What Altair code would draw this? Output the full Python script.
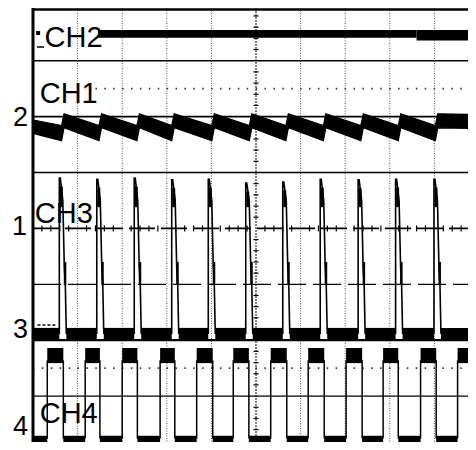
import altair as alt
import pandas as pd

# ---------------- data (all in screen divisions: 10 across, 8 high) ----------------
# CH1: sawtooth ripple, position of each fast rise
ch1_jump_x = [0.64, 1.48, 2.33, 3.11, 4.01, 4.85, 5.67, 6.51, 7.35, 8.19, 9.02, 9.87]
ch1_start = (5.94, 5.70)   # band top / bottom at left edge
ch1_high = (6.05, 5.80)    # band top / bottom just after a rise
ch1_low = (5.84, 5.57)     # band top / bottom just before a rise

# CH2: flat thick trace
ch2_x = [1.46, 8.60, 9.93]
ch2_top = [7.55, 7.55]
ch2_bottom = [7.41, 7.36]

# CH3: narrow pulses
ch3_rise_x = [0.59, 1.43, 2.27, 3.11, 3.93, 4.77, 5.60, 6.44, 7.29, 8.13, 8.99, 9.86]
ch3_top = [4.90, 4.88, 4.90, 4.87, 4.88, 4.81, 4.83, 4.88, 4.87, 4.88, 4.88, 4.87]
ch3_base = (2.00, 2.22)

# CH4: square wave
ch4_rise_x = [0.32, 1.17, 2.00, 2.85, 3.67, 4.49, 5.33, 6.17, 7.02, 7.85, 8.69, 9.52]
ch4_fall_x = [0.68, 1.50, 2.34, 3.18, 4.03, 4.84, 5.69, 6.53, 7.38, 8.19, 9.04, 9.87]
ch4_high = (1.59, 1.86)
ch4_low = (0.00, 0.29)

labels = ["CH2", "CH1", "CH3", "CH4"]
label_x = [0.26, 0.15, 0.04, 0.15]
label_y = [7.245, 6.245, 4.10, 0.52]
markers = ["2", "1", "3", "4"]
marker_x = [-0.45, -0.47, -0.45, -0.45]
marker_y = [5.83, 3.88, 2.04, 0.31]

# ---------------- geometry helpers ----------------
W, H = 460, 434
X0 = -25 / 44.6
X1 = X0 + W / 44.6
Y1 = 444 / 55.9
Y0 = Y1 - H / 55.9
PX = 1 / 44.6
PY = 1 / 55.9

xs = alt.Scale(domain=[X0, X1], nice=False, zero=False)
ys = alt.Scale(domain=[Y0, Y1], nice=False, zero=False)


def X(f):
    return alt.X(f, type="quantitative", scale=xs, axis=None)


def Y(f):
    return alt.Y(f, type="quantitative", scale=ys, axis=None)


layers = []

# vertical dotted grid
vg = pd.DataFrame({"x": [1, 2, 3, 4, 6, 7, 8, 9]})
layers.append(alt.Chart(vg).mark_rule(color="#555", strokeWidth=1, strokeDash=[1, 1.5]).encode(x=X("x")))
layers.append(alt.Chart(pd.DataFrame({"x": [5]})).mark_rule(color="#333", strokeWidth=1.2, strokeDash=[2, 1]).encode(x=X("x")))
ticks_v = pd.DataFrame({"y": [0.2 * i for i in range(1, 40) if i % 5 != 0]})
ticks_v["x"] = 5 - 2.5 * PX
ticks_v["x2"] = 5 + 2.5 * PX
layers.append(alt.Chart(ticks_v).mark_rule(color="#000", strokeWidth=1.2).encode(x=X("x"), x2="x2", y=Y("y")))


def hrule(yvals, width, dash=None, color="#000", start=0.0, end=None):
    d = pd.DataFrame({"y": yvals})
    d["x"] = start
    d["x2"] = X1 if end is None else end
    kw = dict(color=color, strokeWidth=width)
    if dash:
        kw["strokeDash"] = dash
    return alt.Chart(d).mark_rule(**kw).encode(x=X("x"), x2="x2", y=Y("y"))


layers.append(hrule([7, 6, 5], 1.6))
layers.append(hrule([2], 2.2))
layers.append(hrule([1], 1.4))
layers.append(hrule([4], 1.6, [26, 6]))
layers.append(hrule([3], 1.3, [28, 7]))
layers.append(hrule([6.5], 1.6, [1.5, 7.4], "#333", start=1.4))
layers.append(hrule([1.5], 1.6, [1.5, 7.4], "#333"))
ticks_h = pd.DataFrame({"x": [0.2 * i for i in range(1, 50) if i % 5 != 0]})
ticks_h["y"] = 4 - 3 * PY
ticks_h["y2"] = 4 + 3 * PY
layers.append(alt.Chart(ticks_h).mark_rule(color="#000", strokeWidth=1.2).encode(x=X("x"), y=Y("y"), y2="y2"))

# frame
layers.append(alt.Chart(pd.DataFrame({"x": [0]})).mark_rule(color="#000", strokeWidth=3).encode(x=X("x")))
layers.append(hrule([Y1 - 1.5 * PY], 2.5))

# small ground markers at the left edge
layers.append(hrule([7.245], 1.5, start=0.09, end=0.25))
layers.append(hrule([2.27], 1.5, [3, 2], start=0.1, end=0.5))
gm = pd.DataFrame({"x": [0.07], "x2": [0.16], "y": [7.46], "y2": [7.53]})
layers.append(alt.Chart(gm).mark_rect(color="#000").encode(x=X("x"), x2="x2", y=Y("y"), y2="y2"))

# CH2
c2 = pd.DataFrame({"x": ch2_x[:-1], "x2": ch2_x[1:], "y": ch2_bottom, "y2": ch2_top})
layers.append(alt.Chart(c2).mark_rect(color="#000").encode(x=X("x"), x2="x2", y=Y("y"), y2="y2"))

# CH1 band
rows = [(0.0, ch1_start[0], ch1_start[1])]
for xj in ch1_jump_x:
    rows.append((xj, ch1_low[0], ch1_low[1]))
    rows.append((xj + 2.5 * PX, ch1_high[0], ch1_high[1]))
rows.append((X1, ch1_high[0] - 0.01, ch1_high[1] - 0.01))
c1 = pd.DataFrame(rows, columns=["x", "yhi", "ylo"])
layers.append(alt.Chart(c1).mark_area(color="#000", opacity=1, stroke="#000", strokeWidth=1.2)
              .encode(x=X("x"), y=Y("ylo"), y2=alt.Y2("yhi")))

# CH3 baseline segments
segs = []
prev = 0.0
for r in ch3_rise_x:
    segs.append((prev, r))
    prev = r + 7 * PX
segs.append((prev, X1))
c3b = pd.DataFrame(segs, columns=["x", "x2"])
c3b["y"] = ch3_base[0]
c3b["y2"] = ch3_base[1]
layers.append(alt.Chart(c3b).mark_rect(color="#000").encode(x=X("x"), x2="x2", y=Y("y"), y2="y2"))

# CH3 pulses
mid = (ch3_base[0] + ch3_base[1]) / 2
pts = []
blobs = []
for k, (r, t) in enumerate(zip(ch3_rise_x, ch3_top)):
    shape = [(0, mid), (0, t), (1 * PX, t), (3.5 * PX, 4.5), (5 * PX, 3.3), (6 * PX, 3.0), (7 * PX, mid)]
    for j, (dx, yy) in enumerate(shape):
        pts.append((k, j, r + dx, yy))
    blobs.append((r + 0.5 * PX, r + 3.5 * PX, 4.38, t - 0.15))
    blobs.append((r + 4.5 * PX, r + 7 * PX, 2.99, 3.40))
c3 = pd.DataFrame(pts, columns=["k", "j", "x", "y"])
layers.append(alt.Chart(c3).mark_line(color="#000", strokeWidth=1.6).encode(x=X("x"), y=Y("y"), detail="k:N", order="j:Q"))
c3bl = pd.DataFrame(blobs, columns=["x", "x2", "y", "y2"])
layers.append(alt.Chart(c3bl).mark_rect(color="#000").encode(x=X("x"), x2="x2", y=Y("y"), y2="y2"))

# CH4
hi = pd.DataFrame({"x": ch4_rise_x, "x2": ch4_fall_x})
hi["y"] = ch4_high[0]
hi["y2"] = ch4_high[1]
layers.append(alt.Chart(hi).mark_rect(color="#000").encode(x=X("x"), x2="x2", y=Y("y"), y2="y2"))
lo = pd.DataFrame({"x": [0.0] + ch4_fall_x, "x2": ch4_rise_x + [X1]})
lo["y"] = ch4_low[0]
lo["y2"] = ch4_low[1]
layers.append(alt.Chart(lo).mark_rect(color="#000", clip=True).encode(x=X("x"), x2="x2", y=Y("y"), y2="y2"))
edges = pd.DataFrame({"x": ch4_rise_x + ch4_fall_x})
edges["y"] = ch4_low[1] - 0.05
edges["y2"] = ch4_high[0] + 0.05
layers.append(alt.Chart(edges).mark_rule(color="#000", strokeWidth=1.5).encode(x=X("x"), y=Y("y"), y2="y2"))

# text
tl = pd.DataFrame({"t": labels, "x": label_x, "y": label_y})
layers.append(alt.Chart(tl).mark_text(align="left", baseline="alphabetic", font="Liberation Sans",
                                      fontSize=29, color="#000").encode(x=X("x"), y=Y("y"), text="t:N"))
tm = pd.DataFrame({"t": markers, "x": marker_x, "y": marker_y})
layers.append(alt.Chart(tm).mark_text(align="left", baseline="alphabetic", font="Liberation Sans",
                                      fontSize=27, color="#000").encode(x=X("x"), y=Y("y"), text="t:N"))

chart = alt.layer(*layers).properties(
    width=W, height=H, padding=0, autosize=alt.AutoSizeParams(type="none"), background="white"
).configure_view(stroke=None)

chart.save("out.html", embed_options={"renderer": "svg", "actions": False})
